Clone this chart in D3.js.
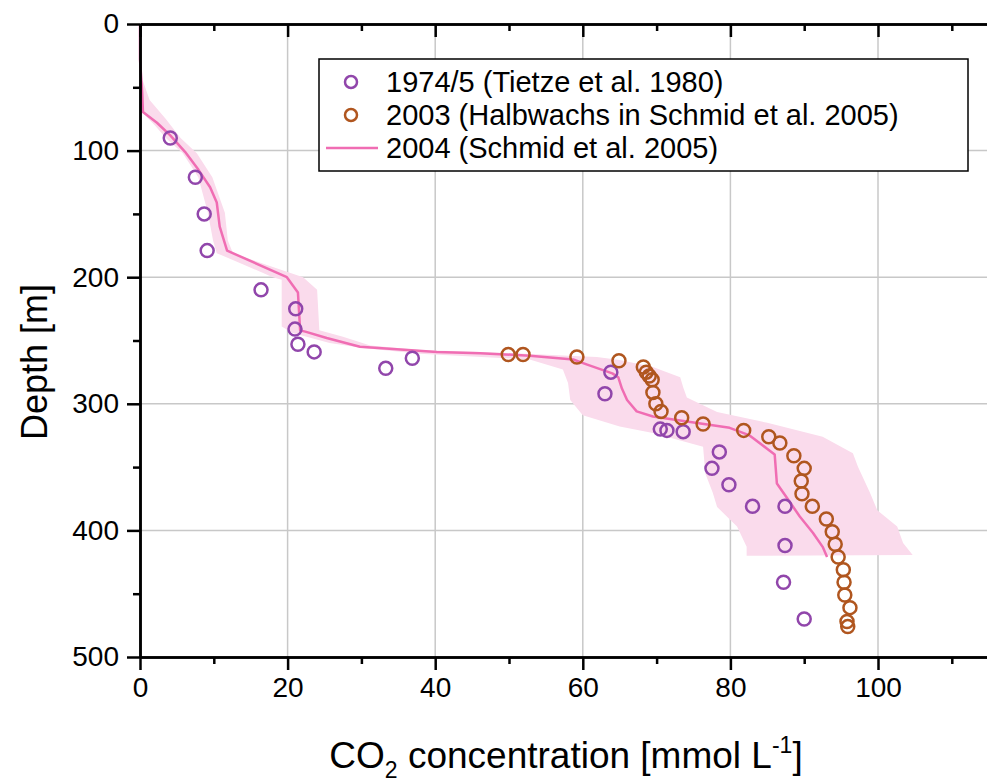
<!DOCTYPE html>
<html>
<head>
<meta charset="utf-8">
<script src="https://cdn.jsdelivr.net/npm/d3@7"></script>
<style>
  body { margin: 0; background: #fff; }
  text { font-family: "Liberation Sans", Arial, sans-serif; fill: #000; }
</style>
</head>
<body>
<div id="chart"></div>
<script>
// [CO2 mmol/L, depth m]
const tietze1974 = [[4.1,90],[7.5,121],[8.7,150],[9.1,179],[16.4,210],[21.1,225],[21.0,241],[21.4,253],
    [23.6,259],[36.9,264],[33.3,272],[63.8,275],[63.0,292],[70.5,320],[71.4,321],[73.6,322],[78.5,338],
    [77.5,351],[79.8,364],[83.0,381],[87.4,381],[87.4,412],[87.2,441],[90.0,470]];

const halbwachs2003 = [[49.9,261],[51.9,261],[59.2,263],[64.9,266],[68.2,271],[68.6,275],[69.0,278],
    [69.4,281],[69.5,291],[69.9,300],[70.6,306],[73.4,311],[76.3,316],[81.8,321],[85.2,326],[86.7,331],
    [88.6,341],[90.0,351],[89.6,361],[89.7,371],[91.1,381],[93.0,391],[93.8,401],[94.2,411],[94.6,421],
    [95.3,431],[95.4,441],[95.5,451],[96.2,461],[95.8,472],[95.9,476]];

const schmid2004 = [[0,0],[0,28],[0.3,54.5],[0.4,69.5],[2.3,78],[4.1,88],[6.1,101],[7.9,115],[9.5,129],
    [10.4,141],[10.8,160],[11.8,179],[19.9,200],[21.4,212],[21.7,242],[22.4,243],[25.3,248],[29.8,255],
    [34.8,257],[40.2,259],[46.1,260],[52.8,262],[58.7,265],[60.6,269],[64.0,276],[64.8,279],[65.3,288],
    [66.0,297],[67.3,306],[69.5,310],[74.1,314],[79.9,319],[82.6,325],[86.0,340],[86.3,363],[88.1,378],
    [89.4,389],[91.2,402],[92.5,413],[93.1,421]];

// shaded range of the 2004 profile: left (low) and right (high) edges
const bandLow = [[0,45],[0,55],[0.3,70],[2.0,80],[3.5,90],[5.8,102],[7.9,121],[9.2,149],[9.9,171],
    [10.4,181],[14,190],[18,200],[19.2,202],[19.2,239],[20.7,244],[25.7,252],[30.2,256],[37.9,260.5],
    [52.8,265],[57.3,273],[58.0,283.6],[58.3,297],[60.0,309],[65.0,318],[69.5,323],[76.3,334],[76.6,355],
    [77.6,370],[78.2,381.5],[80.9,397],[82.2,413],[82.2,420]];
const bandHigh = [[0.4,45],[1.3,60],[3.5,75],[5.5,90],[7.7,102],[9.8,121],[11.5,149],[11.9,171],[12.6,181],
    [17,190],[22.1,200],[24.0,210],[24.3,242],[27.5,247],[31.2,254],[37.9,257.5],[46.1,259],[61.9,263],
    [65.0,265.4],[69.5,271],[73.2,279],[73.6,287],[74.1,295],[78.2,306.5],[85.0,315],[92.5,326],[96.6,339],
    [97.3,350],[98.9,370],[99.9,384],[102.6,397],[103.4,410],[104.7,419.5]];

const xTicks = [0, 20, 40, 60, 80, 100];
const xMinorTicks = [10, 30, 50, 70, 90, 110];
const yTicks = [0, 100, 200, 300, 400, 500];
const yMinorTicks = [50, 150, 250, 350, 450];
const legendLabels = ["1974/5 (Tietze et al. 1980)", "2003 (Halbwachs in Schmid et al. 2005)", "2004 (Schmid et al. 2005)"];

const purple = "#9146ab", brown = "#b0561f", pink = "#f06db3", bandFill = "#fadbec";

const width = 987, height = 782;
const svg = d3.select("#chart").append("svg")
    .attr("width", width)
    .attr("height", height);

const x = d3.scaleLinear().domain([0, 115]).range([140, 140 + 115 * 7.38]);
const y = d3.scaleLinear().domain([0, 500]).range([24, 657]);

// grid
svg.append("g").selectAll("line").data(xTicks.slice(1))
    .join("line")
    .attr("x1", d => x(d)).attr("x2", d => x(d))
    .attr("y1", y(0)).attr("y2", y(500))
    .attr("stroke", "#c8c8c8").attr("stroke-width", 1.5);
svg.append("g").selectAll("line").data(yTicks.slice(1, -1))
    .join("line")
    .attr("x1", x(0)).attr("x2", width)
    .attr("y1", d => y(d)).attr("y2", d => y(d))
    .attr("stroke", "#c8c8c8").attr("stroke-width", 1.5);

// band
let bandPoly = bandLow.concat(bandHigh.slice().reverse());
svg.append("path")
    .datum(bandPoly)
    .attr("fill", bandFill)
    .attr("d", d3.line().x(d => x(d[0])).y(d => y(d[1])));

// 2004 line
svg.append("path")
    .datum(schmid2004)
    .attr("fill", "none")
    .attr("stroke", pink)
    .attr("stroke-width", 2.5)
    .attr("stroke-linejoin", "round")
    .attr("d", d3.line().x(d => x(d[0])).y(d => y(d[1])));

function drawCircles(data, color) {
    svg.append("g").selectAll("circle").data(data)
        .join("circle")
        .attr("cx", d => x(d[0]))
        .attr("cy", d => y(d[1]))
        .attr("r", 6.5)
        .attr("fill", "none")
        .attr("stroke", color)
        .attr("stroke-width", 2.5);
}
drawCircles(tietze1974, purple);
drawCircles(halbwachs2003, brown);

// axes
function styleAxis(g) {
    g.selectAll("path.domain").attr("stroke", "#000").attr("stroke-width", 2.5);
    g.selectAll(".tick line").attr("stroke", "#000").attr("stroke-width", 2.5);
    g.selectAll("text").attr("font-size", "28px").attr("fill", "#000")
        .style("font-family", '"Liberation Sans", Arial, sans-serif');
}

svg.append("g")
    .attr("transform", "translate(0," + y(500) + ")")
    .call(d3.axisBottom(x).tickValues(xMinorTicks).tickSize(7).tickFormat("").tickSizeOuter(0))
    .call(styleAxis);
svg.append("g")
    .attr("transform", "translate(0," + y(500) + ")")
    .call(d3.axisBottom(x).tickValues(xTicks).tickSize(13).tickPadding(7).tickSizeOuter(0))
    .call(styleAxis);

svg.append("g")
    .attr("transform", "translate(0," + y(0) + ")")
    .call(d3.axisBottom(x).tickValues(xMinorTicks).tickSize(7).tickFormat("").tickSizeOuter(0))
    .call(styleAxis);
svg.append("g")
    .attr("transform", "translate(0," + y(0) + ")")
    .call(d3.axisBottom(x).tickValues(xTicks).tickSize(13).tickFormat("").tickSizeOuter(0))
    .call(styleAxis);

svg.append("g")
    .attr("transform", "translate(" + x(0) + ",0)")
    .call(d3.axisLeft(y).tickValues(yMinorTicks).tickSize(7).tickFormat("").tickSizeOuter(0))
    .call(styleAxis);
svg.append("g")
    .attr("transform", "translate(" + x(0) + ",0)")
    .call(d3.axisLeft(y).tickValues(yTicks).tickSize(13).tickPadding(8).tickSizeOuter(0))
    .call(styleAxis);

// axis titles
const xTitle = svg.append("text")
    .attr("x", 566).attr("y", 768)
    .attr("text-anchor", "middle")
    .attr("font-size", "37px");
xTitle.append("tspan").text("CO");
xTitle.append("tspan").text("2").attr("font-size", "23px").attr("dy", 10);
xTitle.append("tspan").text(" concentration [mmol L").attr("dy", -10);
xTitle.append("tspan").text("-1").attr("font-size", "23px").attr("dy", -15);
xTitle.append("tspan").text("]").attr("dy", 15);

svg.append("text")
    .attr("transform", "translate(47,362) rotate(-90)")
    .attr("text-anchor", "middle")
    .attr("font-size", "36px")
    .text("Depth [m]");

// legend
const legend = svg.append("g");
legend.append("rect")
    .attr("x", 319).attr("y", 59)
    .attr("width", 649).attr("height", 112)
    .attr("fill", "#fff").attr("stroke", "#000").attr("stroke-width", 1.5);

const rowY = [82, 115, 148];
legend.append("circle").attr("cx", 351).attr("cy", rowY[0]).attr("r", 6)
    .attr("fill", "none").attr("stroke", purple).attr("stroke-width", 2.5);
legend.append("circle").attr("cx", 351).attr("cy", rowY[1]).attr("r", 6)
    .attr("fill", "none").attr("stroke", brown).attr("stroke-width", 2.5);
legend.append("line").attr("x1", 326).attr("x2", 378).attr("y1", rowY[2]).attr("y2", rowY[2])
    .attr("stroke", pink).attr("stroke-width", 2.5);

legend.selectAll("text.lab").data(legendLabels)
    .join("text")
    .attr("class", "lab")
    .attr("x", 386)
    .attr("y", (d, i) => rowY[i])
    .attr("dy", "0.35em")
    .attr("font-size", "29px")
    .text(d => d);
</script>
</body>
</html>
